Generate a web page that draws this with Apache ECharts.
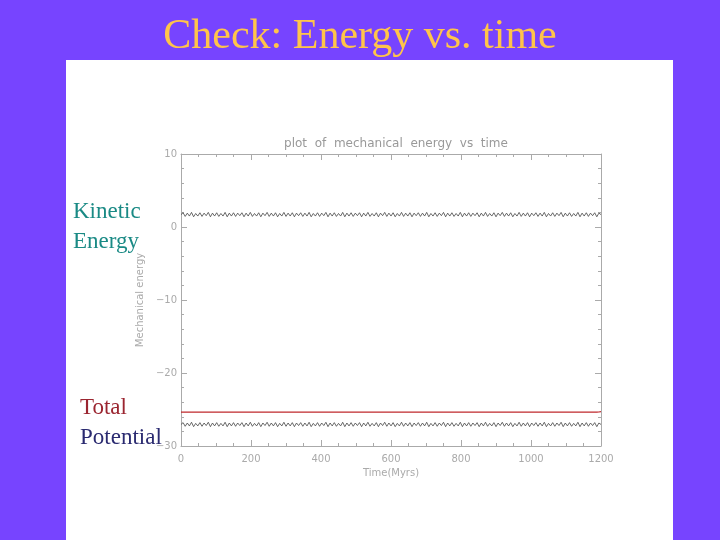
<!DOCTYPE html>
<html>
<head>
<meta charset="utf-8">
<script src="https://cdn.jsdelivr.net/npm/echarts@6/dist/echarts.min.js"></script>
<style>html,body{margin:0;padding:0;background:#7744ff}#c{width:720px;height:540px}</style>
</head>
<body>
<div id="c"></div>
<script>
// samples every 6 Myr, 0..1200
const tStart = 0
const tStep = 6
const kinetic = [
  1.7,1.95,1.45,1.9,1.5,2.0,1.4,1.85,1.5,1.95,1.45,1.9,1.55,2.0,1.4,1.9,1.5,1.95,1.45,1.85,
  1.5,2.0,1.4,1.9,1.5,1.95,1.45,1.9,1.55,1.95,1.4,1.9,1.5,2.0,1.45,1.85,1.5,1.95,1.4,1.9,
  1.55,2.0,1.45,1.9,1.5,1.95,1.4,1.85,1.5,2.0,1.45,1.9,1.5,1.95,1.4,1.9,1.55,1.95,1.45,1.9,
  1.5,2.0,1.4,1.85,1.5,1.95,1.45,1.9,1.55,2.0,1.4,1.9,1.5,1.95,1.45,1.85,1.5,2.0,1.4,1.9,
  1.5,1.95,1.45,1.9,1.55,1.95,1.4,1.9,1.5,2.0,1.45,1.85,1.5,1.95,1.4,1.9,1.55,2.0,1.45,1.9,
  1.5,1.95,1.4,1.85,1.5,2.0,1.45,1.9,1.5,1.95,1.4,1.9,1.55,1.95,1.45,1.9,1.5,2.0,1.4,1.85,
  1.5,1.95,1.45,1.9,1.55,2.0,1.4,1.9,1.5,1.95,1.45,1.85,1.5,2.0,1.4,1.9,1.5,1.95,1.45,1.9,
  1.55,1.95,1.4,1.9,1.5,2.0,1.45,1.85,1.5,1.95,1.4,1.9,1.55,2.0,1.45,1.9,1.5,1.95,1.4,1.85,
  1.5,2.0,1.45,1.9,1.5,1.95,1.4,1.9,1.55,1.95,1.45,1.9,1.5,2.0,1.4,1.85,1.5,1.95,1.45,1.9,
  1.55,2.0,1.4,1.9,1.5,1.95,1.45,1.85,1.5,2.0,1.4,1.9,1.5,1.95,1.45,1.9,1.55,1.95,1.4,1.9,
  1.7
]
const potential = [
  -27.05,-26.8,-27.3,-26.85,-27.25,-26.75,-27.35,-26.9,-27.25,-26.8,-27.3,-26.85,-27.2,-26.75,-27.35,-26.85,-27.25,-26.8,-27.3,-26.9,
  -27.25,-26.75,-27.35,-26.85,-27.25,-26.8,-27.3,-26.85,-27.2,-26.8,-27.35,-26.85,-27.25,-26.75,-27.3,-26.9,-27.25,-26.8,-27.35,-26.85,
  -27.2,-26.75,-27.3,-26.85,-27.25,-26.8,-27.35,-26.9,-27.25,-26.75,-27.3,-26.85,-27.25,-26.8,-27.35,-26.85,-27.2,-26.8,-27.3,-26.85,
  -27.25,-26.75,-27.35,-26.9,-27.25,-26.8,-27.3,-26.85,-27.2,-26.75,-27.35,-26.85,-27.25,-26.8,-27.3,-26.9,-27.25,-26.75,-27.35,-26.85,
  -27.25,-26.8,-27.3,-26.85,-27.2,-26.8,-27.35,-26.85,-27.25,-26.75,-27.3,-26.9,-27.25,-26.8,-27.35,-26.85,-27.2,-26.75,-27.3,-26.85,
  -27.25,-26.8,-27.35,-26.9,-27.25,-26.75,-27.3,-26.85,-27.25,-26.8,-27.35,-26.85,-27.2,-26.8,-27.3,-26.85,-27.25,-26.75,-27.35,-26.9,
  -27.25,-26.8,-27.3,-26.85,-27.2,-26.75,-27.35,-26.85,-27.25,-26.8,-27.3,-26.9,-27.25,-26.75,-27.35,-26.85,-27.25,-26.8,-27.3,-26.85,
  -27.2,-26.8,-27.35,-26.85,-27.25,-26.75,-27.3,-26.9,-27.25,-26.8,-27.35,-26.85,-27.2,-26.75,-27.3,-26.85,-27.25,-26.8,-27.35,-26.9,
  -27.25,-26.75,-27.3,-26.85,-27.25,-26.8,-27.35,-26.85,-27.2,-26.8,-27.3,-26.85,-27.25,-26.75,-27.35,-26.9,-27.25,-26.8,-27.3,-26.85,
  -27.2,-26.75,-27.35,-26.85,-27.25,-26.8,-27.3,-26.9,-27.25,-26.75,-27.35,-26.85,-27.25,-26.8,-27.3,-26.85,-27.2,-26.8,-27.35,-26.85,
  -27.05
]
const total = [
  -25.35,-25.35,-25.36,-25.35,-25.34,-25.35,-25.36,-25.35,-25.35,-25.34,-25.35,-25.36,-25.35,-25.35,-25.34,-25.35,-25.36,-25.35,-25.35,-25.34,
  -25.35,-25.36,-25.35,-25.35,-25.34,-25.35,-25.36,-25.35,-25.35,-25.34,-25.35,-25.36,-25.35,-25.35,-25.34,-25.35,-25.36,-25.35,-25.35,-25.34,
  -25.35,-25.36,-25.35,-25.35,-25.34,-25.35,-25.36,-25.35,-25.35,-25.34,-25.35,-25.36,-25.35,-25.35,-25.34,-25.35,-25.36,-25.35,-25.35,-25.34,
  -25.35,-25.36,-25.35,-25.35,-25.34,-25.35,-25.36,-25.35,-25.35,-25.34,-25.35,-25.36,-25.35,-25.35,-25.34,-25.35,-25.36,-25.35,-25.35,-25.34,
  -25.35,-25.36,-25.35,-25.35,-25.34,-25.35,-25.36,-25.35,-25.35,-25.34,-25.35,-25.36,-25.35,-25.35,-25.34,-25.35,-25.36,-25.35,-25.35,-25.34,
  -25.35,-25.36,-25.35,-25.35,-25.34,-25.35,-25.36,-25.35,-25.35,-25.34,-25.35,-25.36,-25.35,-25.35,-25.34,-25.35,-25.36,-25.35,-25.35,-25.34,
  -25.35,-25.36,-25.35,-25.35,-25.34,-25.35,-25.36,-25.35,-25.35,-25.34,-25.35,-25.36,-25.35,-25.35,-25.34,-25.35,-25.36,-25.35,-25.35,-25.34,
  -25.35,-25.36,-25.35,-25.35,-25.34,-25.35,-25.36,-25.35,-25.35,-25.34,-25.35,-25.36,-25.35,-25.35,-25.34,-25.35,-25.36,-25.35,-25.35,-25.34,
  -25.35,-25.36,-25.35,-25.35,-25.34,-25.35,-25.36,-25.35,-25.35,-25.34,-25.35,-25.36,-25.35,-25.35,-25.34,-25.35,-25.36,-25.35,-25.35,-25.34,
  -25.35,-25.36,-25.35,-25.35,-25.34,-25.35,-25.36,-25.35,-25.35,-25.34,-25.35,-25.36,-25.35,-25.35,-25.34,-25.35,-25.36,-25.35,-25.35,-25.34,
  -25.3
]
const xTicks = [0,200,400,600,800,1000,1200]
const yTicks = [-30,-20,-10,0,10]

function pairs(vals){
  return vals.map((v,i)=>[tStart+i*tStep, v])
}

const chart = echarts.init(document.getElementById('c'))
const ax = '#aaaaaa'
const lab = {color:'#aaaaaa', fontSize:10, fontFamily:'DejaVu Sans'}

function xAxisCfg(pos, show){
  return {type:'value', position:pos, min:0, max:1200, interval:200,
    axisLine:{show:true, onZero:false, lineStyle:{color:ax}},
    axisTick:{show:true, inside:true, length:6, lineStyle:{color:ax}},
    minorTick:{show:true, splitNumber:4, length:3, lineStyle:{color:ax}},
    splitLine:{show:false},
    axisLabel:{show:show, margin:8, ...lab, formatter:v=>''+v},
    name: show ? 'Time(Myrs)' : '', nameLocation:'middle', nameGap:22,
    nameTextStyle:{color:'#aaaaaa', fontSize:10, fontFamily:'DejaVu Sans'}}
}
function yAxisCfg(pos, show){
  return {type:'value', position:pos, min:-30, max:10, interval:10,
    axisLine:{show:true, onZero:false, lineStyle:{color:ax}},
    axisTick:{show:true, inside:true, length:6, lineStyle:{color:ax}},
    minorTick:{show:true, splitNumber:5, length:3, lineStyle:{color:ax}},
    splitLine:{show:false},
    axisLabel:{show:show, margin:4, ...lab, formatter:v=> v<0 ? '\u2212'+(-v) : ''+v},
    name: show ? 'Mechanical energy' : '', nameLocation:'middle', nameGap:22,
    nameTextStyle:{color:'#aaaaaa', fontSize:10, fontFamily:'DejaVu Sans'}}
}

chart.setOption({
  backgroundColor:'#7744ff',
  animation:false,
  graphic:[
    {type:'rect', z:-10, shape:{x:66, y:60, width:607, height:480}, style:{fill:'#ffffff'}},
    {type:'text', left:'center', top:16, style:{text:'Check: Energy vs. time', fill:'#ffc44a', font:'42px "Liberation Serif"'}},
    {type:'text', left:73, top:197, style:{text:'Kinetic\nEnergy', fill:'#1a8a85', font:'23px "Liberation Serif"', lineHeight:30}},
    {type:'text', left:80, top:396, style:{text:'Total', fill:'#9b2530', font:'23px "Liberation Serif"'}},
    {type:'text', left:80, top:426, style:{text:'Potential', fill:'#2a2a70', font:'23px "Liberation Serif"'}}
  ],
  title:{text:'plot  of  mechanical  energy  vs  time', left:391, textAlign:'center', top:133,
    textStyle:{color:'#999999', fontSize:12, fontWeight:'normal', fontFamily:'DejaVu Sans'}},
  grid:{left:181, right:119, top:154, bottom:94},
  xAxis:[xAxisCfg('bottom', true), xAxisCfg('top', false)],
  yAxis:[yAxisCfg('left', true), yAxisCfg('right', false)],
  series:[
    {name:'Kinetic', type:'line', data:pairs(kinetic), showSymbol:false, lineStyle:{color:'#444444', width:0.8}},
    {name:'Potential', type:'line', data:pairs(potential), showSymbol:false, lineStyle:{color:'#444444', width:0.8}},
    {name:'Total', type:'line', data:pairs(total), showSymbol:false, lineStyle:{color:'#c0282c', width:1.2}}
  ]
})
</script>
</body>
</html>
